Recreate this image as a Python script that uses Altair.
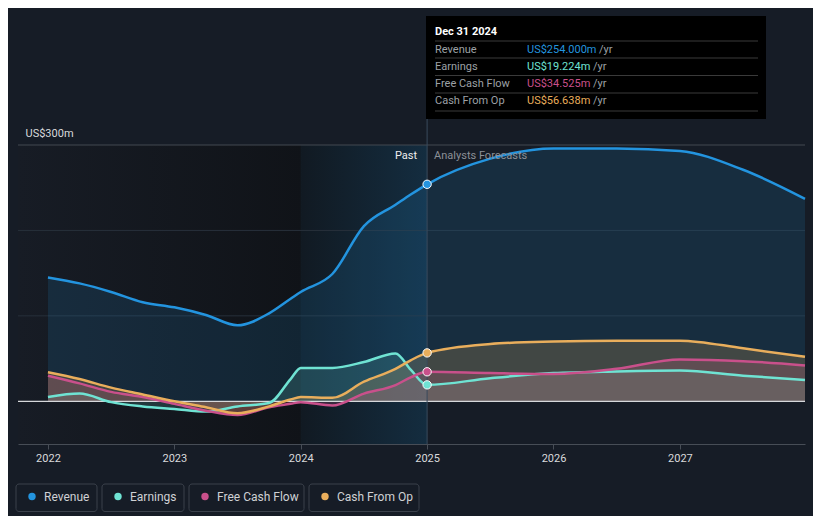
import altair as alt
import pandas as pd

# ---- data (US$ millions) ----
years = [2022.0, 2022.25, 2022.5, 2022.75, 2023.0, 2023.25, 2023.5, 2023.75, 2023.92,
         2024.0, 2024.25, 2024.5, 2024.75, 2024.87, 2025.0, 2025.5, 2026.0, 2026.5,
         2027.0, 2027.5, 2027.99]
revenue = [145, 138, 128, 116, 110, 101, 89, 103, 120, 128, 149, 205, 230, 242,
           254.0, 284, 296, 296, 293, 271, 237]
earnings = [5, 9, -1, -6, -9, -12, -6, -2, 26, 39, 39, 46, 56, 37,
            19.224, 27, 33, 35, 36, 30, 25]
free_cash_flow = [30, 21, 11, 5, -3, -11, -16, -7, -3, -1, -5, 9, 19, 28,
                  34.525, 33, 32, 38, 49, 47, 42]
cash_from_op = [34, 26, 16, 8, 0, -7, -14, -6, 2, 5, 4, 23, 38, 48,
                56.638, 67, 70, 71, 71, 62, 52]

series_names = ["Revenue", "Earnings", "Free Cash Flow", "Cash From Op"]
series_colors = ["#2394df", "#6fe3d3", "#c9508b", "#e9ae5c"]
series_values = [revenue, earnings, free_cash_flow, cash_from_op]
tooltip_values = ["US$254.000m", "US$19.224m", "US$34.525m", "US$56.638m"]

y_tick_values = [-50, 0, 300]
x_tick_values = [2022, 2023, 2024, 2025, 2026, 2027]
grid_faint = [100, 200]
grid_top = [300]

X_MIN, X_MAX = 2021.763, 2027.99
Y_MIN, Y_MAX = -50, 300
PAST_END = 2025.0
HIGHLIGHT_START = 2024.0

rows = []
for name, vals in zip(series_names, series_values):
    for yr, v in zip(years, vals):
        rows.append({"year": yr, "value": v, "series": name})
df = pd.DataFrame(rows)
df_now = df[df["year"] == PAST_END]

x_scale = alt.Scale(domain=[X_MIN, X_MAX], nice=False, zero=False)
y_scale = alt.Scale(domain=[Y_MIN, Y_MAX], nice=False, zero=False)
col_scale = alt.Scale(domain=series_names, range=series_colors)

x_axis = alt.Axis(values=x_tick_values, format="d", grid=False, domainColor="#474d56",
                  tickColor="#474d56", tickSize=5, labelColor="#d9dadc", labelFontSize=11,
                  labelPadding=3, labelFlush=False, title=None)
y_axis = alt.Axis(values=y_tick_values, grid=False, domain=False, ticks=False,
                  labelAlign="left", labelPadding=-7, labelBaseline="middle",
                  labelOffset=-12, labelOverlap=False, labelColor="#d9dadc",
                  labelFontSize=11, title=None,
                  labelExpr="datum.value == 0 ? 'US$0' : (datum.value < 0 ? '-US$' + abs(datum.value) + 'm' : 'US$' + datum.value + 'm')")

base_x = alt.X("year:Q", scale=x_scale, axis=x_axis)
base_y = alt.Y("value:Q", scale=y_scale, axis=y_axis)

# backgrounds
past_bg = alt.Chart(pd.DataFrame({"a": [X_MIN], "b": [PAST_END]})).mark_rect(
    color=alt.Gradient(gradient="linear", x1=0, x2=1, y1=0, y2=0,
                       stops=[alt.GradientStop(color="#171c25", offset=0),
                              alt.GradientStop(color="#101318", offset=0.7),
                              alt.GradientStop(color="#101318", offset=1)])
).encode(x=alt.X("a:Q", scale=x_scale, axis=x_axis), x2="b:Q",
         y=alt.value(0), y2=alt.value(299))

hl_bg = alt.Chart(pd.DataFrame({"a": [HIGHLIGHT_START], "b": [PAST_END]})).mark_rect(
    color=alt.Gradient(gradient="linear", x1=0, x2=1, y1=0, y2=0,
                       stops=[alt.GradientStop(color="rgba(35,148,223,0.05)", offset=0),
                              alt.GradientStop(color="rgba(35,148,223,0.20)", offset=1)])
).encode(x=alt.X("a:Q", scale=x_scale), x2="b:Q", y=alt.value(0), y2=alt.value(299))

grid1 = alt.Chart(pd.DataFrame({"g": grid_faint})).mark_rule(color="#27303b", strokeWidth=1).encode(
    y=alt.Y("g:Q", scale=y_scale))
grid2 = alt.Chart(pd.DataFrame({"g": grid_top})).mark_rule(color="#424850", strokeWidth=1).encode(
    y=alt.Y("g:Q", scale=y_scale))

areas = []
for name, colr, op in zip(series_names, series_colors, [0.14, 0.16, 0.22, 0.2]):
    areas.append(alt.Chart(df[df["series"] == name]).mark_area(
        color=colr, opacity=op, interpolate="monotone").encode(
        x=base_x, y=base_y, y2=alt.datum(0)))

zero_line = alt.Chart(pd.DataFrame({"g": [0]})).mark_rule(color="#d6d8db", strokeWidth=1.2).encode(
    y=alt.Y("g:Q", scale=y_scale))

lines = alt.Chart(df).mark_line(strokeWidth=2.5, interpolate="monotone").encode(
    x=base_x, y=base_y,
    color=alt.Color("series:N", scale=col_scale, legend=None),
    detail="series:N")

now_rule = alt.Chart(pd.DataFrame({"a": [PAST_END]})).mark_rule(color="#3a4b5d", strokeWidth=1).encode(
    x=alt.X("a:Q", scale=x_scale), y=alt.value(-26), y2=alt.value(299))

points = alt.Chart(df_now).mark_point(filled=True, size=70, stroke="white", strokeWidth=1, opacity=1).encode(
    x=base_x, y=base_y,
    fill=alt.Fill("series:N", scale=col_scale, legend=None))

past_txt = alt.Chart(pd.DataFrame({"a": [PAST_END]})).mark_text(
    text="Past", align="right", dx=-10, fontSize=11, color="#eeeeee", baseline="middle").encode(
    x=alt.X("a:Q", scale=x_scale), y=alt.value(11))
fc_txt = alt.Chart(pd.DataFrame({"a": [PAST_END]})).mark_text(
    text="Analysts Forecasts", align="left", dx=7, fontSize=11, color="#8c9097", baseline="middle").encode(
    x=alt.X("a:Q", scale=x_scale), y=alt.value(11))

# tooltip box
layers_tip = []
layers_tip.append(alt.Chart().mark_rect(color="#000000").encode(
    x=alt.value(408), x2=alt.value(748), y=alt.value(-129), y2=alt.value(-26)))
layers_tip.append(alt.Chart().mark_text(text="Dec 31 2024", align="left", baseline="middle",
                                        fontSize=11, fontWeight="bold", color="#ffffff").encode(
    x=alt.value(417), y=alt.value(-113.5)))
for sy in [-104, -87, -69.5, -52, -34]:
    layers_tip.append(alt.Chart().mark_rule(color="#3a3a3a", strokeWidth=1).encode(
        x=alt.value(417), x2=alt.value(740), y=alt.value(sy)))
row_y = [-95.5, -78.5, -61, -44]
yr_x = [581, 575, 575, 575]
for name, colr, val, ry, yx in zip(series_names, series_colors, tooltip_values, row_y, yr_x):
    layers_tip.append(alt.Chart().mark_text(text=name, align="left", baseline="middle",
                                            fontSize=11, color="#9da1a6").encode(
        x=alt.value(417), y=alt.value(ry)))
    layers_tip.append(alt.Chart().mark_text(text=val, align="left", baseline="middle",
                                            fontSize=11, color=colr).encode(
        x=alt.value(509), y=alt.value(ry)))
    layers_tip.append(alt.Chart().mark_text(text="/yr", align="left", baseline="middle",
                                            fontSize=11, color="#9da1a6").encode(
        x=alt.value(yx), y=alt.value(ry)))

# legend boxes
leg = []
box_x = [(-2, 79), (84, 166), (171, 286), (291, 401)]
dot_x = [14, 100, 187, 307]
txt_x = [26, 112, 199, 319]
for name, colr, (bx1, bx2), dx_, tx in zip(series_names, series_colors, box_x, dot_x, txt_x):
    leg.append(alt.Chart().mark_rect(fillOpacity=0, stroke="#3b414b", strokeWidth=1, cornerRadius=3).encode(
        x=alt.value(bx1), x2=alt.value(bx2), y=alt.value(339), y2=alt.value(366.5)))
    leg.append(alt.Chart().mark_point(filled=True, size=55, color=colr, opacity=1).encode(
        x=alt.value(dx_), y=alt.value(351.5)))
    leg.append(alt.Chart().mark_text(text=name, align="left", baseline="middle", fontSize=12,
                                     color="#cfd1d4").encode(
        x=alt.value(tx), y=alt.value(351.5)))

chart = alt.layer(
    past_bg, hl_bg, grid1, grid2, *areas, zero_line, now_rule, lines, points,
    past_txt, fc_txt, *layers_tip, *leg
).properties(
    width=787, height=299,
    background="#161c26",
    padding={"left": 10, "top": 137, "right": 8, "bottom": 72},
    autosize=alt.AutoSizeParams(type="none"),
).configure(font="Roboto").configure_view(stroke=None, strokeWidth=0)

chart.save("out.html", embed_options={"renderer": "svg", "actions": False})
